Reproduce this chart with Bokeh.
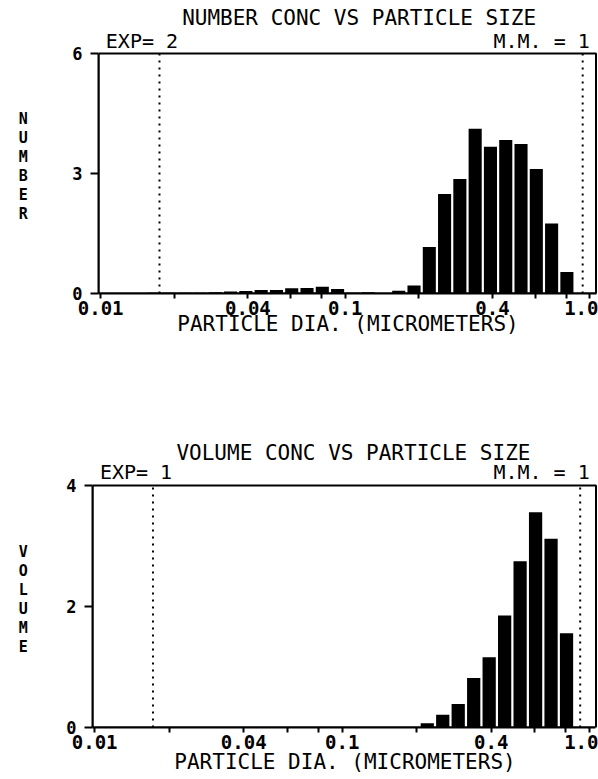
from bokeh.plotting import figure
from bokeh.models import FixedTicker, Label
from bokeh.layouts import column, row
from bokeh.embed import file_html
from bokeh.resources import INLINE

# ---- data -------------------------------------------------------------
# particle diameter bin edges (micrometers), 16 bins per decade
bin_edges = [0.01, 0.01155, 0.01334, 0.0154, 0.01778, 0.02054, 0.02371, 0.02738,
             0.03162, 0.03652, 0.04217, 0.0487, 0.05623, 0.06494, 0.07499, 0.0866,
             0.1, 0.1155, 0.1334, 0.154, 0.1778, 0.2054, 0.2371, 0.2738,
             0.3162, 0.3652, 0.4217, 0.487, 0.5623, 0.6494, 0.7499, 0.866, 1.0]

number_conc = [0.01, 0.01, 0.01, 0.02, 0.02, 0.02, 0.02, 0.03,
               0.05, 0.06, 0.09, 0.09, 0.13, 0.14, 0.17, 0.11,
               0.02, 0.03, 0.01, 0.07, 0.20, 1.16, 2.49, 2.86,
               4.12, 3.67, 3.84, 3.74, 3.11, 1.75, 0.54, 0.0]

volume_conc = [0.0, 0.0, 0.0, 0.0, 0.0, 0.0, 0.0, 0.0,
               0.0, 0.0, 0.0, 0.0, 0.0, 0.0, 0.0, 0.0,
               0.0, 0.0, 0.0, 0.0, 0.0, 0.07, 0.21, 0.39,
               0.82, 1.16, 1.85, 2.75, 3.56, 3.12, 1.56, 0.0]

x_ticks = [0.01, 0.02, 0.04, 0.06, 0.08, 0.1, 0.2, 0.4, 0.6, 0.8, 1.0]
x_tick_labels = {0.01: "0.01", 0.04: "0.04", 0.1: "0.1", 0.4: "0.4", 1.0: "1.0"}
number_ticks = [0, 3, 6]
volume_ticks = [0, 2, 4]
number_limits = [0.0174, 0.935]   # dotted size-range markers
volume_limits = [0.0172, 0.915]

X_START, X_END, BOX_RIGHT = 0.0098, 1.075, 1.06
FONT = "DejaVu Sans Mono"
GAP = 10 ** 0.0045
LABEL_W = 35


def make_ylabel(text, height, y_end, ymax, border_bottom):
    f = figure(width=LABEL_W, height=height, x_range=(0, 1), y_range=(0, y_end),
               x_axis_location=None, y_axis_location=None,
               output_backend="svg", toolbar_location=None,
               min_border_left=0, min_border_right=0,
               min_border_top=5, min_border_bottom=border_bottom)
    f.grid.visible = False
    f.outline_line_color = None
    f.add_layout(Label(x=0.65, y=ymax * 0.53, text="\n".join(text),
                       text_font=FONT, text_font_style="bold",
                       text_font_size="15px", text_line_height=1.05,
                       text_align="center", text_baseline="middle",
                       text_color="black"))
    return f


def make_panel(values, yticks, limits, title, exp, height, y_end,
               title_x, title_y, exp_y, border_left, border_bottom,
               xlabel_standoff):
    ymax = yticks[-1]
    p = figure(width=598 - LABEL_W, height=height, x_axis_type="log",
               x_range=(X_START, X_END), y_range=(0, y_end),
               output_backend="svg", toolbar_location=None,
               min_border_left=border_left, min_border_right=1,
               min_border_top=5, min_border_bottom=border_bottom)
    p.grid.visible = False
    p.outline_line_color = None
    p.background_fill_color = "white"
    p.border_fill_color = "white"

    # plot box
    p.quad(left=X_START, right=BOX_RIGHT, bottom=0, top=ymax,
           fill_color=None, line_color="black", line_width=2)

    lefts = [e * GAP for e in bin_edges[:-1]]
    rights = [e / GAP for e in bin_edges[1:]]
    p.quad(left=lefts, right=rights, bottom=0, top=values,
           fill_color="black", line_color=None)

    p.segment(x0=limits, y0=[0, 0], x1=limits, y1=[ymax, ymax],
              line_color="black", line_width=2, line_dash="2 5")

    # x axis
    xa = p.xaxis[0]
    xa.bounds = (X_START, BOX_RIGHT)
    xa.ticker = FixedTicker(ticks=x_ticks)
    xa.major_label_overrides = {t: x_tick_labels.get(t, "") for t in x_ticks}
    xa.minor_tick_line_color = None
    xa.major_tick_in = 0
    xa.major_tick_out = 5
    xa.major_tick_line_width = 2
    xa.axis_line_width = 2
    xa.major_label_standoff = 2
    xa.major_label_text_font = FONT
    xa.major_label_text_font_style = "bold"
    xa.major_label_text_font_size = "19px"
    xa.major_label_text_color = "black"
    xa.axis_label = "PARTICLE DIA. (MICROMETERS)"
    xa.axis_label_text_font = FONT
    xa.axis_label_text_font_style = "normal"
    xa.axis_label_text_font_size = "21px"
    xa.axis_label_text_color = "black"
    xa.axis_label_standoff = xlabel_standoff

    # y axis
    ya = p.yaxis[0]
    ya.bounds = (0, ymax)
    ya.ticker = FixedTicker(ticks=yticks)
    ya.axis_line_width = 2
    ya.minor_tick_line_color = None
    ya.major_tick_in = 0
    ya.major_tick_out = 8
    ya.major_tick_line_width = 2
    ya.major_label_standoff = 8
    ya.major_label_text_font = FONT
    ya.major_label_text_font_style = "bold"
    ya.major_label_text_font_size = "17px"
    ya.major_label_text_color = "black"

    # titles, inside the extended y range above the plot box
    p.add_layout(Label(x=title_x, y=title_y, text=title, text_font=FONT,
                       text_font_size="21px", text_align="center",
                       text_baseline="middle", text_color="black"))
    p.add_layout(Label(x=0.0105, y=exp_y, text=exp, text_font=FONT,
                       text_font_size="20px", text_align="left",
                       text_baseline="middle", text_color="black"))
    p.add_layout(Label(x=1.0, y=exp_y, text="M.M. = 1", text_font=FONT,
                       text_font_size="20px", text_align="right",
                       text_baseline="middle", text_color="black"))
    return p


top = make_panel(number_conc, number_ticks, number_limits,
                 "NUMBER CONC VS PARTICLE SIZE", "EXP= 2",
                 height=390, y_end=7.2, title_x=0.114, title_y=6.9, exp_y=6.325,
                 border_left=98 - LABEL_W, border_bottom=97, xlabel_standoff=-6)
top_label = make_ylabel("NUMBER", height=390, y_end=7.2, ymax=6, border_bottom=97)

bottom = make_panel(volume_conc, volume_ticks, volume_limits,
                    "VOLUME CONC VS PARTICLE SIZE", "EXP= 1",
                    height=389, y_end=5.49, title_x=0.111, title_y=4.545,
                    exp_y=4.23, border_left=92 - LABEL_W, border_bottom=52,
                    xlabel_standoff=-2)
bottom_label = make_ylabel("VOLUME", height=389, y_end=5.49, ymax=4,
                           border_bottom=52)

layout = column(row(top_label, top), row(bottom_label, bottom))
open("out.html", "w").write(file_html(layout, INLINE))
